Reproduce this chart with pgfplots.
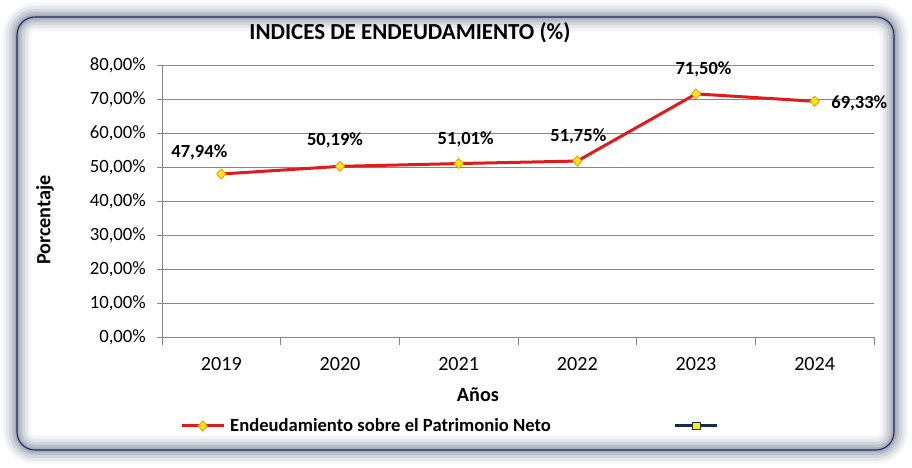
\documentclass[border=0pt]{standalone}
\usepackage{fontspec}
\setmainfont{Carlito}
\usepackage{pgfplots}
\pgfplotsset{compat=1.18}
\definecolor{gridc}{HTML}{868686}
\definecolor{linered}{HTML}{E01B1B}
\definecolor{mkfill}{HTML}{FFE614}
\definecolor{mkdraw}{HTML}{E39B00}
\definecolor{navyc}{HTML}{172B4F}
\definecolor{framec}{HTML}{1B2A5E}
\definecolor{glowc}{HTML}{6F7C92}
\begin{document}
\begin{tikzpicture}[x=1bp,y=1bp]
\fill[white] (0,0) rectangle (912,468);
\foreach \w/\o in {28/0.07,22/0.11,16/0.16,10/0.22,5/0.28}{
  \draw[glowc, line width=\w bp, opacity=\o, rounded corners=18bp] (17,18) rectangle (894,451);
}
\draw[framec, line width=1.1bp, rounded corners=18bp] (17,18) rectangle (894,451);
\begin{axis}[
  at={(162bp,131bp)}, anchor=south west,
  scale only axis, width=712bp, height=272bp,
  xmin=-0.5, xmax=5.5, ymin=0, ymax=80,
  axis x line*=bottom, axis y line*=left,
  axis line style={draw=gridc, line width=0.9bp},
  /pgf/number format/assume math mode=true,
  ytick={0,10,...,80},
  yticklabel={\pgfmathprintnumber[fixed,fixed zerofill,precision=2,use comma]{\tick}\%},
  ymajorgrids, grid style={draw=gridc, line width=0.9bp},
  xtick={0,...,5}, xticklabels={2019,2020,2021,2022,2023,2024},
  minor xtick={-0.5,0.5,...,5.5},
  every major x tick/.append style={draw=none},
  tick align=outside, major tick length=5bp, minor tick length=8bp,
  tick style={draw=gridc, line width=0.9bp},
  yticklabel style={font=\fontsize{18.8}{20}\selectfont, anchor=east, inner sep=0pt, xshift=-11bp},
  xticklabel style={font=\fontsize{20.2}{22}\selectfont, anchor=base, inner sep=0pt, yshift=-29bp},
  xlabel={Años}, ylabel={Porcentaje},
  xlabel style={font=\bfseries\fontsize{20.3}{22}\selectfont, at={(axis description cs:0.4438,-0.2379)}, anchor=base, inner sep=0pt},
  ylabel style={font=\bfseries\fontsize{20.3}{22}\selectfont, at={(axis description cs:-0.1643,0.4301)}, anchor=center, rotate=0},
  title={INDICES DE ENDEUDAMIENTO (\%)},
  title style={font=\bfseries\fontsize{23}{25}\selectfont, at={(axis description cs:0.3483,1.0735)}, anchor=base, inner sep=0pt},
  clip=false,
  legend columns=2,
  legend style={draw=none, fill=none, at={(0.02528,-0.3272)}, anchor=west, inner sep=0pt,
    font=\bfseries\fontsize{18.7}{20}\selectfont, nodes={inner sep=0pt}},
  legend image code/.code={\draw[mark repeat=2,mark phase=2,#1] plot coordinates {(0bp,0bp) (21bp,0bp) (42bp,0bp)};},
]
\addplot[linered, line width=3bp, mark=diamond*, mark size=5bp,
  mark options={xscale=1.25, fill=mkfill, draw=mkdraw, line width=0.8bp, solid}]
  coordinates {(0,47.94) (1,50.19) (2,51.01) (3,51.75) (4,71.50) (5,69.33)};
\addlegendentry{\hspace*{5bp}Endeudamiento sobre el Patrimonio Neto\hspace*{122.7bp}}
\addlegendimage{navyc, line width=3bp, mark=square*, mark size=3.8bp, mark options={fill=yellow, draw=navyc, line width=0.8bp, solid}}
\addlegendentry{}
\begin{scope}[every node/.style={font=\bfseries\fontsize{18.6}{20}\selectfont, inner sep=0pt}]
\node[anchor=base, xshift=-22bp, yshift=16.7bp] at (axis cs:0,47.94) {47,94\%};
\node[anchor=base, xshift=-5bp, yshift=20.7bp] at (axis cs:1,50.19) {50,19\%};
\node[anchor=base, xshift=7bp, yshift=19.5bp] at (axis cs:2,51.01) {51,01\%};
\node[anchor=base, xshift=1bp, yshift=20bp] at (axis cs:3,51.75) {51,75\%};
\node[anchor=base, xshift=7.5bp, yshift=19bp] at (axis cs:4,71.50) {71,50\%};
\node[anchor=base west, xshift=16.5bp, yshift=-7bp] at (axis cs:5,69.33) {69,33\%};
\end{scope}
\end{axis}
\end{tikzpicture}
\end{document}
